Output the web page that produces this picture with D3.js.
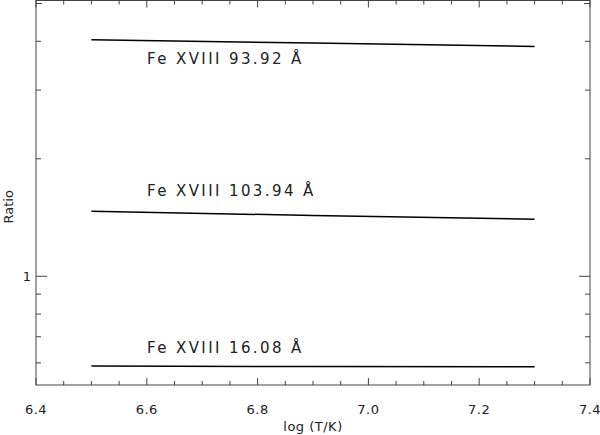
<!DOCTYPE html>
<html><head><meta charset="utf-8">
<script src="https://cdn.jsdelivr.net/npm/d3@7"></script>
<style>body{margin:0;background:#fff}text{font-family:"DejaVu Sans",sans-serif;fill:#222}</style>
</head><body><svg id="c" width="600" height="435"></svg>
<script>
const temps = [6.5, 6.9, 7.3];
const seriesNames = ["Fe XVIII 93.92 Å", "Fe XVIII 103.94 Å", "Fe XVIII 16.08 Å"];
const ratio9392 = [4.04, 3.96, 3.88];
const ratio10394 = [1.467, 1.432, 1.401];
const ratio1608 = [0.589, 0.587, 0.586];
const xTicks = [6.4, 6.6, 6.8, 7.0, 7.2, 7.4];
const yMinorTicks = [0.6, 0.7, 0.8, 0.9, 2, 3, 4, 5];
const yMajorTicks = [1];

const series = [ratio9392, ratio10394, ratio1608];
const svg = d3.select("#c");
const L = 36, R = 590, T = 0.5, B = 385;
const x = d3.scaleLinear().domain([6.4, 7.4]).range([L, R]);
const y = d3.scaleLog().domain([0.5265, 5.09]).range([B, T]);

const g = svg.append("g");
g.append("rect").attr("x", L).attr("y", T).attr("width", R - L).attr("height", B - T)
  .attr("fill", "none").attr("stroke", "#444").attr("stroke-width", 1);

const xMinor = d3.range(6.4, 7.4001, 0.05).map(v => +v.toFixed(2));
xMinor.forEach(v => {
  const major = xTicks.some(t => Math.abs(t - v) < 1e-6);
  const len = major ? 7 : 4;
  g.append("line").attr("x1", x(v)).attr("x2", x(v)).attr("y1", B).attr("y2", B - len).attr("stroke", "#444");
  g.append("line").attr("x1", x(v)).attr("x2", x(v)).attr("y1", T).attr("y2", T + len).attr("stroke", "#444");
});
xTicks.forEach(v => {
  g.append("text").attr("x", x(v)).attr("y", 414).attr("text-anchor", "middle")
    .attr("font-size", 13).attr("letter-spacing", 0.5).text(v.toFixed(1));
});
yMinorTicks.forEach(v => {
  const len = v === 5 ? 6 : 5;
  g.append("line").attr("x1", L).attr("x2", L + len).attr("y1", y(v)).attr("y2", y(v)).attr("stroke", "#444");
  g.append("line").attr("x1", R).attr("x2", R - len).attr("y1", y(v)).attr("y2", y(v)).attr("stroke", "#444");
});
yMajorTicks.forEach(v => {
  g.append("line").attr("x1", L).attr("x2", L + 11).attr("y1", y(v)).attr("y2", y(v)).attr("stroke", "#444");
  g.append("line").attr("x1", R).attr("x2", R - 11).attr("y1", y(v)).attr("y2", y(v)).attr("stroke", "#444");
  g.append("text").attr("x", 31).attr("y", y(v) + 5).attr("text-anchor", "end")
    .attr("font-size", 13).text(String(v));
});
g.append("text").attr("x", 313).attr("y", 431).attr("text-anchor", "middle")
  .attr("font-size", 13).attr("letter-spacing", 0.5).text("log (T/K)");
g.append("text").attr("transform", `translate(13,${(T + B) / 2 + 14}) rotate(-90)`)
  .attr("text-anchor", "middle").attr("font-size", 13).text("Ratio");

const line = d3.line().x((d, i) => x(temps[i])).y(d => y(d));
series.forEach(s => {
  g.append("path").attr("d", line(s)).attr("fill", "none").attr("stroke", "#000").attr("stroke-width", 1.5);
});
const labelPos = [[147, 64], [147, 196], [147, 353]];
series.forEach((s, i) => {
  g.append("text").attr("x", labelPos[i][0]).attr("y", labelPos[i][1])
    .attr("font-size", 15).attr("letter-spacing", 2.4).text(seriesNames[i]);
});
</script></body></html>
